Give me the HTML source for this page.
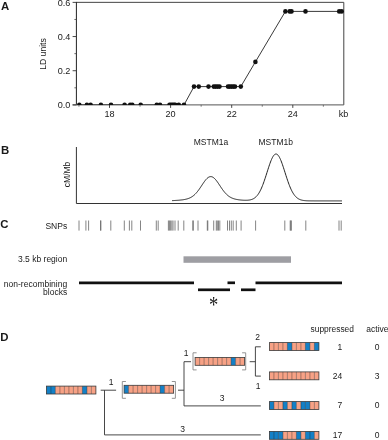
<!DOCTYPE html>
<html><head><meta charset="utf-8"><title>Figure</title>
<style>html,body{margin:0;padding:0;background:#fff}svg{display:block}text{font-family:"Liberation Sans",Arial,sans-serif;fill:#1a1a1a}</style></head><body>
<svg width="388" height="440" viewBox="0 0 388 440">
<rect width="388" height="440" fill="#fff"/>
<text x="0.9" y="9.7" font-size="11.4" font-weight="bold" fill="#111">A</text>
<text x="0.9" y="154.2" font-size="11.4" font-weight="bold" fill="#111">B</text>
<text x="0.2" y="228.3" font-size="11.4" font-weight="bold" fill="#111">C</text>
<text x="0.3" y="340.7" font-size="11.4" font-weight="bold" fill="#111">D</text>
<defs><clipPath id="pa"><rect x="76.4" y="2.35" width="267.79999999999995" height="102.55000000000001"/></clipPath></defs>
<path d="M76.4 2.35H343.8V104.9" fill="none" stroke="#444" stroke-width="1"/>
<path d="M76.4 1.9500000000000002V104.9" fill="none" stroke="#222" stroke-width="1"/>
<path d="M72.60000000000001 104.9H343.8" fill="none" stroke="#555" stroke-width="1"/>
<path d="M72.60000000000001 104.90H76.4" stroke="#333" stroke-width="0.9"/>
<text x="70.4" y="108.10" font-size="9.1" text-anchor="end">0.0</text>
<path d="M74.4 87.82H76.4" stroke="#444" stroke-width="0.8"/>
<path d="M72.60000000000001 70.73H76.4" stroke="#333" stroke-width="0.9"/>
<text x="70.4" y="73.93" font-size="9.1" text-anchor="end">0.2</text>
<path d="M74.4 53.65H76.4" stroke="#444" stroke-width="0.8"/>
<path d="M72.60000000000001 36.56H76.4" stroke="#333" stroke-width="0.9"/>
<text x="70.4" y="39.76" font-size="9.1" text-anchor="end">0.4</text>
<path d="M74.4 19.48H76.4" stroke="#444" stroke-width="0.8"/>
<path d="M72.60000000000001 2.39H76.4" stroke="#333" stroke-width="0.9"/>
<text x="70.4" y="5.59" font-size="9.1" text-anchor="end">0.6</text>
<path d="M78.95 104.9V106.7" stroke="#555" stroke-width="0.8"/>
<path d="M109.50 104.9V107.9" stroke="#333" stroke-width="0.9"/>
<text x="109.50" y="117.2" font-size="9.1" text-anchor="middle">18</text>
<path d="M140.05 104.9V106.7" stroke="#555" stroke-width="0.8"/>
<path d="M170.60 104.9V107.9" stroke="#333" stroke-width="0.9"/>
<text x="170.60" y="117.2" font-size="9.1" text-anchor="middle">20</text>
<path d="M201.15 104.9V106.7" stroke="#555" stroke-width="0.8"/>
<path d="M231.70 104.9V107.9" stroke="#333" stroke-width="0.9"/>
<text x="231.70" y="117.2" font-size="9.1" text-anchor="middle">22</text>
<path d="M262.25 104.9V106.7" stroke="#555" stroke-width="0.8"/>
<path d="M292.80 104.9V107.9" stroke="#333" stroke-width="0.9"/>
<text x="292.80" y="117.2" font-size="9.1" text-anchor="middle">24</text>
<path d="M323.35 104.9V106.7" stroke="#555" stroke-width="0.8"/>
<text x="343.5" y="117.2" font-size="9.1" text-anchor="middle">kb</text>
<text transform="translate(45.7 54) rotate(-90)" font-size="8.6" text-anchor="middle">LD units</text>
<g clip-path="url(#pa)">
<polyline fill="none" stroke="#222" stroke-width="0.9" points="79.3,104.9 86.9,104.9 90.6,104.9 100.9,104.9 111,104.9 124.6,104.9 130.2,104.9 132.3,104.9 140.7,104.9 156.75,104.9 160,104.9 169.5,104.9 171,104.9 172.5,104.9 174,104.9 175.2,104.9 178.75,104.9 184,104.9 194,86.6 198.75,86.6 208.5,86.6 213.75,86.6 215.6,86.6 217.5,86.6 219.5,86.6 228,86.6 229.7,86.6 231.5,86.6 233.3,86.6 235,86.6 240.8,86.6 255.4,61.9 285.4,11.4 289.7,11.4 291.5,11.4 305.5,11.4 339.2,11.4 341.7,11.4"/>
<circle cx="79.3" cy="104.9" r="2.3" fill="#111"/>
<circle cx="86.9" cy="104.9" r="2.3" fill="#111"/>
<circle cx="90.6" cy="104.9" r="2.3" fill="#111"/>
<circle cx="100.9" cy="104.9" r="2.3" fill="#111"/>
<circle cx="111" cy="104.9" r="2.3" fill="#111"/>
<circle cx="124.6" cy="104.9" r="2.3" fill="#111"/>
<circle cx="130.2" cy="104.9" r="2.3" fill="#111"/>
<circle cx="132.3" cy="104.9" r="2.3" fill="#111"/>
<circle cx="140.7" cy="104.9" r="2.3" fill="#111"/>
<circle cx="156.75" cy="104.9" r="2.3" fill="#111"/>
<circle cx="160" cy="104.9" r="2.3" fill="#111"/>
<circle cx="169.5" cy="104.9" r="2.3" fill="#111"/>
<circle cx="171" cy="104.9" r="2.3" fill="#111"/>
<circle cx="172.5" cy="104.9" r="2.3" fill="#111"/>
<circle cx="174" cy="104.9" r="2.3" fill="#111"/>
<circle cx="175.2" cy="104.9" r="2.3" fill="#111"/>
<circle cx="178.75" cy="104.9" r="2.3" fill="#111"/>
<circle cx="184" cy="104.9" r="2.3" fill="#111"/>
<circle cx="194" cy="86.6" r="2.3" fill="#111"/>
<circle cx="198.75" cy="86.6" r="2.3" fill="#111"/>
<circle cx="208.5" cy="86.6" r="2.3" fill="#111"/>
<circle cx="213.75" cy="86.6" r="2.3" fill="#111"/>
<circle cx="215.6" cy="86.6" r="2.3" fill="#111"/>
<circle cx="217.5" cy="86.6" r="2.3" fill="#111"/>
<circle cx="219.5" cy="86.6" r="2.3" fill="#111"/>
<circle cx="228" cy="86.6" r="2.3" fill="#111"/>
<circle cx="229.7" cy="86.6" r="2.3" fill="#111"/>
<circle cx="231.5" cy="86.6" r="2.3" fill="#111"/>
<circle cx="233.3" cy="86.6" r="2.3" fill="#111"/>
<circle cx="235" cy="86.6" r="2.3" fill="#111"/>
<circle cx="240.8" cy="86.6" r="2.3" fill="#111"/>
<circle cx="255.4" cy="61.9" r="2.3" fill="#111"/>
<circle cx="285.4" cy="11.4" r="2.3" fill="#111"/>
<circle cx="289.7" cy="11.4" r="2.3" fill="#111"/>
<circle cx="291.5" cy="11.4" r="2.3" fill="#111"/>
<circle cx="305.5" cy="11.4" r="2.3" fill="#111"/>
<circle cx="339.2" cy="11.4" r="2.3" fill="#111"/>
<circle cx="341.7" cy="11.4" r="2.3" fill="#111"/>
</g>
<path d="M76.4 147V203.5H342" fill="none" stroke="#333" stroke-width="1"/>
<text transform="translate(70 174.4) rotate(-90)" font-size="8.5" text-anchor="middle">cM/Mb</text>
<text x="211" y="144.6" font-size="8.5" text-anchor="middle">MSTM1a</text>
<text x="275.7" y="144.6" font-size="8.5" text-anchor="middle">MSTM1b</text>
<polyline fill="none" stroke="#222" stroke-width="1" points="172.0,200.62 172.5,200.60 173.0,200.58 173.5,200.55 174.0,200.53 174.5,200.50 175.0,200.48 175.5,200.45 176.0,200.42 176.5,200.39 177.0,200.36 177.5,200.32 178.0,200.29 178.5,200.25 179.0,200.21 179.5,200.16 180.0,200.11 180.5,200.06 181.0,200.01 181.5,199.95 182.0,199.89 182.5,199.83 183.0,199.76 183.5,199.68 184.0,199.60 184.5,199.51 185.0,199.41 185.5,199.30 186.0,199.19 186.5,199.07 187.0,198.93 187.5,198.78 188.0,198.62 188.5,198.45 189.0,198.26 189.5,198.05 190.0,197.82 190.5,197.58 191.0,197.31 191.5,197.02 192.0,196.71 192.5,196.38 193.0,196.02 193.5,195.63 194.0,195.21 194.5,194.77 195.0,194.29 195.5,193.79 196.0,193.26 196.5,192.70 197.0,192.11 197.5,191.50 198.0,190.86 198.5,190.19 199.0,189.50 199.5,188.79 200.0,188.07 200.5,187.33 201.0,186.58 201.5,185.82 202.0,185.07 202.5,184.31 203.0,183.56 203.5,182.83 204.0,182.11 204.5,181.42 205.0,180.75 205.5,180.12 206.0,179.52 206.5,178.97 207.0,178.47 207.5,178.02 208.0,177.63 208.5,177.29 209.0,177.02 209.5,176.82 210.0,176.68 210.5,176.61 211.0,176.61 211.5,176.68 212.0,176.82 212.5,177.02 213.0,177.29 213.5,177.63 214.0,178.02 214.5,178.47 215.0,178.97 215.5,179.52 216.0,180.12 216.5,180.75 217.0,181.42 217.5,182.11 218.0,182.83 218.5,183.56 219.0,184.31 219.5,185.07 220.0,185.82 220.5,186.58 221.0,187.33 221.5,188.07 222.0,188.79 222.5,189.50 223.0,190.19 223.5,190.86 224.0,191.50 224.5,192.11 225.0,192.70 225.5,193.26 226.0,193.79 226.5,194.29 227.0,194.77 227.5,195.21 228.0,195.63 228.5,196.02 229.0,196.38 229.5,196.71 230.0,197.02 230.5,197.31 231.0,197.58 231.5,197.82 232.0,198.05 232.5,198.26 233.0,198.45 233.5,198.62 234.0,198.78 234.5,198.93 235.0,199.06 235.5,199.19 236.0,199.30 236.5,199.41 237.0,199.50 237.5,199.59 238.0,199.67 238.5,199.75 239.0,199.82 239.5,199.88 240.0,199.94 240.5,199.99 241.0,200.04 241.5,200.08 242.0,200.12 242.5,200.16 243.0,200.19 243.5,200.22 244.0,200.24 244.5,200.25 245.0,200.27 245.5,200.27 246.0,200.27 246.5,200.26 247.0,200.24 247.5,200.22 248.0,200.18 248.5,200.13 249.0,200.08 249.5,200.00 250.0,199.91 250.5,199.81 251.0,199.68 251.5,199.53 252.0,199.36 252.5,199.16 253.0,198.94 253.5,198.68 254.0,198.39 254.5,198.06 255.0,197.69 255.5,197.28 256.0,196.82 256.5,196.31 257.0,195.75 257.5,195.14 258.0,194.47 258.5,193.74 259.0,192.95 259.5,192.10 260.0,191.18 260.5,190.20 261.0,189.16 261.5,188.05 262.0,186.87 262.5,185.64 263.0,184.34 263.5,182.99 264.0,181.59 264.5,180.14 265.0,178.65 265.5,177.13 266.0,175.58 266.5,174.01 267.0,172.44 267.5,170.86 268.0,169.29 268.5,167.75 269.0,166.23 269.5,164.76 270.0,163.34 270.5,161.98 271.0,160.70 271.5,159.50 272.0,158.40 272.5,157.41 273.0,156.53 273.5,155.77 274.0,155.14 274.5,154.64 275.0,154.29 275.5,154.07 276.0,154.00 276.5,154.07 277.0,154.29 277.5,154.65 278.0,155.14 278.5,155.77 279.0,156.53 279.5,157.41 280.0,158.41 280.5,159.51 281.0,160.71 281.5,161.99 282.0,163.34 282.5,164.77 283.0,166.24 283.5,167.76 284.0,169.31 284.5,170.87 285.0,172.45 285.5,174.03 286.0,175.60 286.5,177.15 287.0,178.68 287.5,180.17 288.0,181.62 288.5,183.02 289.0,184.38 289.5,185.67 290.0,186.91 290.5,188.09 291.0,189.21 291.5,190.26 292.0,191.24 292.5,192.16 293.0,193.02 293.5,193.82 294.0,194.55 294.5,195.23 295.0,195.85 295.5,196.41 296.0,196.93 296.5,197.40 297.0,197.82 297.5,198.20 298.0,198.54 298.5,198.84 299.0,199.11 299.5,199.35 300.0,199.56 300.5,199.75 301.0,199.91 301.5,200.05 302.0,200.18 302.5,200.29 303.0,200.38 303.5,200.46 304.0,200.53 304.5,200.59 305.0,200.64 305.5,200.68 306.0,200.72 306.5,200.75 307.0,200.78 307.5,200.80 308.0,200.82 308.5,200.83 309.0,200.84 309.5,200.85 310.0,200.86 310.5,200.87 311.0,200.88 311.5,200.88 312.0,200.88 312.5,200.89 313.0,200.89 313.5,200.89 314.0,200.89 314.5,200.90 315.0,200.90 315.5,200.90 316.0,200.90 316.5,200.90 317.0,200.90 317.5,200.90 318.0,200.90 318.5,200.90 319.0,200.90 319.5,200.90 320.0,200.90 320.5,200.90 321.0,200.90 321.5,200.90 322.0,200.90 322.5,200.90 323.0,200.90 323.5,200.90 324.0,200.90 324.5,200.90 325.0,200.90 325.5,200.90 326.0,200.90 326.5,200.90 327.0,200.90 327.5,200.90 328.0,200.90 328.5,200.90 329.0,200.90 329.5,200.90 330.0,200.90 330.5,200.90 331.0,200.90 331.5,200.90 332.0,200.90 332.5,200.90 333.0,200.90 333.5,200.90 334.0,200.90 334.5,200.90 335.0,200.90 335.5,200.90 336.0,200.90 336.5,200.90 337.0,200.90 337.5,200.90 338.0,200.90 338.5,200.90 339.0,200.90 339.5,200.90 340.0,200.90 340.5,200.90 341.0,200.90 341.5,200.90 342.0,200.90"/>
<text x="67.2" y="228.5" font-size="8.5" text-anchor="end">SNPs</text>
<path d="M79 220.5V230.6" stroke="#666" stroke-width="0.8"/>
<path d="M85.9 220.5V230.6" stroke="#666" stroke-width="0.8"/>
<path d="M88.6 220.5V230.6" stroke="#666" stroke-width="0.8"/>
<path d="M100.5 220.5V230.6" stroke="#666" stroke-width="0.8"/>
<path d="M100.9 220.5V230.6" stroke="#666" stroke-width="0.8"/>
<path d="M110.8 220.5V230.6" stroke="#666" stroke-width="0.8"/>
<path d="M124.3 220.5V230.6" stroke="#666" stroke-width="0.8"/>
<path d="M129.4 220.5V230.6" stroke="#666" stroke-width="0.8"/>
<path d="M131.8 220.5V230.6" stroke="#666" stroke-width="0.8"/>
<path d="M140.5 220.5V230.6" stroke="#666" stroke-width="0.8"/>
<path d="M156.3 220.5V230.6" stroke="#666" stroke-width="0.8"/>
<path d="M158.2 220.5V230.6" stroke="#666" stroke-width="0.8"/>
<path d="M168.4 220.5V230.6" stroke="#666" stroke-width="0.8"/>
<path d="M169.4 220.5V230.6" stroke="#666" stroke-width="0.8"/>
<path d="M170.4 220.5V230.6" stroke="#666" stroke-width="0.8"/>
<path d="M171.8 220.5V230.6" stroke="#666" stroke-width="0.8"/>
<path d="M173 220.5V230.6" stroke="#666" stroke-width="0.8"/>
<path d="M175 220.5V230.6" stroke="#666" stroke-width="0.8"/>
<path d="M178.2 220.5V230.6" stroke="#666" stroke-width="0.8"/>
<path d="M183.8 220.5V230.6" stroke="#666" stroke-width="0.8"/>
<path d="M192.8 220.5V230.6" stroke="#666" stroke-width="0.8"/>
<path d="M193.3 220.5V230.6" stroke="#666" stroke-width="0.8"/>
<path d="M198 220.5V230.6" stroke="#666" stroke-width="0.8"/>
<path d="M207.3 220.5V230.6" stroke="#666" stroke-width="0.8"/>
<path d="M207.8 220.5V230.6" stroke="#666" stroke-width="0.8"/>
<path d="M213.7 220.5V230.6" stroke="#666" stroke-width="0.8"/>
<path d="M216.3 220.5V230.6" stroke="#666" stroke-width="0.8"/>
<path d="M217.3 220.5V230.6" stroke="#666" stroke-width="0.8"/>
<path d="M218.5 220.5V230.6" stroke="#666" stroke-width="0.8"/>
<path d="M219.8 220.5V230.6" stroke="#666" stroke-width="0.8"/>
<path d="M227.5 220.5V230.6" stroke="#666" stroke-width="0.8"/>
<path d="M229.5 220.5V230.6" stroke="#666" stroke-width="0.8"/>
<path d="M231.3 220.5V230.6" stroke="#666" stroke-width="0.8"/>
<path d="M233.2 220.5V230.6" stroke="#666" stroke-width="0.8"/>
<path d="M236.3 220.5V230.6" stroke="#666" stroke-width="0.8"/>
<path d="M241.1 220.5V230.6" stroke="#666" stroke-width="0.8"/>
<path d="M255.6 220.5V230.6" stroke="#666" stroke-width="0.8"/>
<path d="M284.8 220.5V230.6" stroke="#666" stroke-width="0.8"/>
<path d="M290.2 220.5V230.6" stroke="#666" stroke-width="0.8"/>
<path d="M290.8 220.5V230.6" stroke="#666" stroke-width="0.8"/>
<path d="M291.3 220.5V230.6" stroke="#666" stroke-width="0.8"/>
<path d="M305.8 220.5V230.6" stroke="#666" stroke-width="0.8"/>
<path d="M339 220.5V230.6" stroke="#666" stroke-width="0.8"/>
<path d="M341.2 220.5V230.6" stroke="#666" stroke-width="0.8"/>
<text x="67.2" y="261.5" font-size="8.5" text-anchor="end">3.5 kb region</text>
<rect x="183.5" y="256.3" width="107.5" height="6.5" fill="#9e9ea3"/>
<text x="67.2" y="286.8" font-size="8.5" text-anchor="end">non-recombining</text>
<text x="67.2" y="294.7" font-size="8.5" text-anchor="end">blocks</text>
<path d="M79 282.8H194" stroke="#111" stroke-width="2.7"/>
<path d="M227.5 282.8H235" stroke="#111" stroke-width="2.7"/>
<path d="M255.5 282.8H342" stroke="#111" stroke-width="2.7"/>
<path d="M198 289.8H230" stroke="#111" stroke-width="2.7"/>
<path d="M241 289.8H255.5" stroke="#111" stroke-width="2.7"/>
<text transform="translate(213.6 312.4) scale(1 1.3)" x="0" y="0" font-size="18.5" text-anchor="middle" style="font-family:'Liberation Serif',serif">*</text>
<rect x="46.40" y="386.1" width="4.55" height="7.9" fill="#1480c6"/>
<rect x="50.90" y="386.1" width="4.55" height="7.9" fill="#1480c6"/>
<rect x="55.40" y="386.1" width="4.55" height="7.9" fill="#f7a286"/>
<rect x="59.90" y="386.1" width="4.55" height="7.9" fill="#f7a286"/>
<rect x="64.40" y="386.1" width="4.55" height="7.9" fill="#f7a286"/>
<rect x="68.90" y="386.1" width="4.55" height="7.9" fill="#f7a286"/>
<rect x="73.40" y="386.1" width="4.55" height="7.9" fill="#f7a286"/>
<rect x="77.90" y="386.1" width="4.55" height="7.9" fill="#f7a286"/>
<rect x="82.40" y="386.1" width="4.55" height="7.9" fill="#1480c6"/>
<rect x="86.90" y="386.1" width="4.55" height="7.9" fill="#f7a286"/>
<rect x="91.40" y="386.1" width="4.55" height="7.9" fill="#f7a286"/>
<path d="M50.90 386.1V394.0 M55.40 386.1V394.0 M59.90 386.1V394.0 M64.40 386.1V394.0 M68.90 386.1V394.0 M73.40 386.1V394.0 M77.90 386.1V394.0 M82.40 386.1V394.0 M86.90 386.1V394.0 M91.40 386.1V394.0" stroke="#000" stroke-opacity="0.55" stroke-width="0.6" fill="none"/>
<rect x="46.4" y="386.1" width="49.50" height="7.9" fill="none" stroke="#3a3a3a" stroke-width="0.8"/>
<rect x="124.10" y="385.3" width="4.55" height="7.9" fill="#1480c6"/>
<rect x="128.60" y="385.3" width="4.55" height="7.9" fill="#f7a286"/>
<rect x="133.10" y="385.3" width="4.55" height="7.9" fill="#f7a286"/>
<rect x="137.60" y="385.3" width="4.55" height="7.9" fill="#f7a286"/>
<rect x="142.10" y="385.3" width="4.55" height="7.9" fill="#f7a286"/>
<rect x="146.60" y="385.3" width="4.55" height="7.9" fill="#f7a286"/>
<rect x="151.10" y="385.3" width="4.55" height="7.9" fill="#f7a286"/>
<rect x="155.60" y="385.3" width="4.55" height="7.9" fill="#f7a286"/>
<rect x="160.10" y="385.3" width="4.55" height="7.9" fill="#1480c6"/>
<rect x="164.60" y="385.3" width="4.55" height="7.9" fill="#f7a286"/>
<rect x="169.10" y="385.3" width="4.55" height="7.9" fill="#f7a286"/>
<path d="M128.60 385.3V393.2 M133.10 385.3V393.2 M137.60 385.3V393.2 M142.10 385.3V393.2 M146.60 385.3V393.2 M151.10 385.3V393.2 M155.60 385.3V393.2 M160.10 385.3V393.2 M164.60 385.3V393.2 M169.10 385.3V393.2" stroke="#000" stroke-opacity="0.55" stroke-width="0.6" fill="none"/>
<rect x="124.1" y="385.3" width="49.50" height="7.9" fill="none" stroke="#3a3a3a" stroke-width="0.8"/>
<rect x="195.10" y="357.4" width="4.55" height="7.9" fill="#f7a286"/>
<rect x="199.60" y="357.4" width="4.55" height="7.9" fill="#f7a286"/>
<rect x="204.10" y="357.4" width="4.55" height="7.9" fill="#f7a286"/>
<rect x="208.60" y="357.4" width="4.55" height="7.9" fill="#f7a286"/>
<rect x="213.10" y="357.4" width="4.55" height="7.9" fill="#f7a286"/>
<rect x="217.60" y="357.4" width="4.55" height="7.9" fill="#f7a286"/>
<rect x="222.10" y="357.4" width="4.55" height="7.9" fill="#f7a286"/>
<rect x="226.60" y="357.4" width="4.55" height="7.9" fill="#f7a286"/>
<rect x="231.10" y="357.4" width="4.55" height="7.9" fill="#1480c6"/>
<rect x="235.60" y="357.4" width="4.55" height="7.9" fill="#f7a286"/>
<rect x="240.10" y="357.4" width="4.55" height="7.9" fill="#f7a286"/>
<path d="M199.60 357.4V365.29999999999995 M204.10 357.4V365.29999999999995 M208.60 357.4V365.29999999999995 M213.10 357.4V365.29999999999995 M217.60 357.4V365.29999999999995 M222.10 357.4V365.29999999999995 M226.60 357.4V365.29999999999995 M231.10 357.4V365.29999999999995 M235.60 357.4V365.29999999999995 M240.10 357.4V365.29999999999995" stroke="#000" stroke-opacity="0.55" stroke-width="0.6" fill="none"/>
<rect x="195.1" y="357.4" width="49.50" height="7.9" fill="none" stroke="#3a3a3a" stroke-width="0.8"/>
<rect x="269.40" y="342.6" width="4.55" height="7.9" fill="#f7a286"/>
<rect x="273.90" y="342.6" width="4.55" height="7.9" fill="#f7a286"/>
<rect x="278.40" y="342.6" width="4.55" height="7.9" fill="#f7a286"/>
<rect x="282.90" y="342.6" width="4.55" height="7.9" fill="#f7a286"/>
<rect x="287.40" y="342.6" width="4.55" height="7.9" fill="#1480c6"/>
<rect x="291.90" y="342.6" width="4.55" height="7.9" fill="#f7a286"/>
<rect x="296.40" y="342.6" width="4.55" height="7.9" fill="#f7a286"/>
<rect x="300.90" y="342.6" width="4.55" height="7.9" fill="#f7a286"/>
<rect x="305.40" y="342.6" width="4.55" height="7.9" fill="#1480c6"/>
<rect x="309.90" y="342.6" width="4.55" height="7.9" fill="#f7a286"/>
<rect x="314.40" y="342.6" width="4.55" height="7.9" fill="#1480c6"/>
<path d="M273.90 342.6V350.5 M278.40 342.6V350.5 M282.90 342.6V350.5 M287.40 342.6V350.5 M291.90 342.6V350.5 M296.40 342.6V350.5 M300.90 342.6V350.5 M305.40 342.6V350.5 M309.90 342.6V350.5 M314.40 342.6V350.5" stroke="#000" stroke-opacity="0.55" stroke-width="0.6" fill="none"/>
<rect x="269.4" y="342.6" width="49.50" height="7.9" fill="none" stroke="#3a3a3a" stroke-width="0.8"/>
<rect x="269.40" y="371.9" width="4.55" height="7.9" fill="#f7a286"/>
<rect x="273.90" y="371.9" width="4.55" height="7.9" fill="#f7a286"/>
<rect x="278.40" y="371.9" width="4.55" height="7.9" fill="#f7a286"/>
<rect x="282.90" y="371.9" width="4.55" height="7.9" fill="#f7a286"/>
<rect x="287.40" y="371.9" width="4.55" height="7.9" fill="#f7a286"/>
<rect x="291.90" y="371.9" width="4.55" height="7.9" fill="#f7a286"/>
<rect x="296.40" y="371.9" width="4.55" height="7.9" fill="#f7a286"/>
<rect x="300.90" y="371.9" width="4.55" height="7.9" fill="#f7a286"/>
<rect x="305.40" y="371.9" width="4.55" height="7.9" fill="#f7a286"/>
<rect x="309.90" y="371.9" width="4.55" height="7.9" fill="#f7a286"/>
<rect x="314.40" y="371.9" width="4.55" height="7.9" fill="#f7a286"/>
<path d="M273.90 371.9V379.79999999999995 M278.40 371.9V379.79999999999995 M282.90 371.9V379.79999999999995 M287.40 371.9V379.79999999999995 M291.90 371.9V379.79999999999995 M296.40 371.9V379.79999999999995 M300.90 371.9V379.79999999999995 M305.40 371.9V379.79999999999995 M309.90 371.9V379.79999999999995 M314.40 371.9V379.79999999999995" stroke="#000" stroke-opacity="0.55" stroke-width="0.6" fill="none"/>
<rect x="269.4" y="371.9" width="49.50" height="7.9" fill="none" stroke="#3a3a3a" stroke-width="0.8"/>
<rect x="269.40" y="401.6" width="4.55" height="7.9" fill="#1480c6"/>
<rect x="273.90" y="401.6" width="4.55" height="7.9" fill="#f7a286"/>
<rect x="278.40" y="401.6" width="4.55" height="7.9" fill="#f7a286"/>
<rect x="282.90" y="401.6" width="4.55" height="7.9" fill="#1480c6"/>
<rect x="287.40" y="401.6" width="4.55" height="7.9" fill="#f7a286"/>
<rect x="291.90" y="401.6" width="4.55" height="7.9" fill="#1480c6"/>
<rect x="296.40" y="401.6" width="4.55" height="7.9" fill="#f7a286"/>
<rect x="300.90" y="401.6" width="4.55" height="7.9" fill="#1480c6"/>
<rect x="305.40" y="401.6" width="4.55" height="7.9" fill="#1480c6"/>
<rect x="309.90" y="401.6" width="4.55" height="7.9" fill="#f7a286"/>
<rect x="314.40" y="401.6" width="4.55" height="7.9" fill="#f7a286"/>
<path d="M273.90 401.6V409.5 M278.40 401.6V409.5 M282.90 401.6V409.5 M287.40 401.6V409.5 M291.90 401.6V409.5 M296.40 401.6V409.5 M300.90 401.6V409.5 M305.40 401.6V409.5 M309.90 401.6V409.5 M314.40 401.6V409.5" stroke="#000" stroke-opacity="0.55" stroke-width="0.6" fill="none"/>
<rect x="269.4" y="401.6" width="49.50" height="7.9" fill="none" stroke="#3a3a3a" stroke-width="0.8"/>
<rect x="269.40" y="431.4" width="4.55" height="7.9" fill="#1480c6"/>
<rect x="273.90" y="431.4" width="4.55" height="7.9" fill="#1480c6"/>
<rect x="278.40" y="431.4" width="4.55" height="7.9" fill="#1480c6"/>
<rect x="282.90" y="431.4" width="4.55" height="7.9" fill="#f7a286"/>
<rect x="287.40" y="431.4" width="4.55" height="7.9" fill="#f7a286"/>
<rect x="291.90" y="431.4" width="4.55" height="7.9" fill="#f7a286"/>
<rect x="296.40" y="431.4" width="4.55" height="7.9" fill="#1480c6"/>
<rect x="300.90" y="431.4" width="4.55" height="7.9" fill="#f7a286"/>
<rect x="305.40" y="431.4" width="4.55" height="7.9" fill="#1480c6"/>
<rect x="309.90" y="431.4" width="4.55" height="7.9" fill="#1480c6"/>
<rect x="314.40" y="431.4" width="4.55" height="7.9" fill="#f7a286"/>
<path d="M273.90 431.4V439.29999999999995 M278.40 431.4V439.29999999999995 M282.90 431.4V439.29999999999995 M287.40 431.4V439.29999999999995 M291.90 431.4V439.29999999999995 M296.40 431.4V439.29999999999995 M300.90 431.4V439.29999999999995 M305.40 431.4V439.29999999999995 M309.90 431.4V439.29999999999995 M314.40 431.4V439.29999999999995" stroke="#000" stroke-opacity="0.55" stroke-width="0.6" fill="none"/>
<rect x="269.4" y="431.4" width="49.50" height="7.9" fill="none" stroke="#3a3a3a" stroke-width="0.8"/>
<path d="M125.89999999999999 381.5H122.3V398.3H125.89999999999999" fill="none" stroke="#888" stroke-width="0.9"/>
<path d="M171.8 381.5H175.4V398.3H171.8" fill="none" stroke="#888" stroke-width="0.9"/>
<path d="M196.6 352.8H193V369.9H196.6" fill="none" stroke="#888" stroke-width="0.9"/>
<path d="M242.1 352.8H245.7V369.9H242.1" fill="none" stroke="#888" stroke-width="0.9"/>
<path d="M100.7 390.2H116.1 M104.5 390.2V434.9H260.8 M178 390.2H184 M184 361.7V405.9H260.8 M184 361.7H191 M249.7 361.7H255.4 M255.4 346.8V376.1H260.8 M255.4 346.8H260.8" fill="none" stroke="#333" stroke-width="0.9"/>
<text x="111.2" y="385.4" font-size="8.5" text-anchor="middle">1</text>
<text x="186" y="356.2" font-size="8.5" text-anchor="middle">1</text>
<text x="257.5" y="339.9" font-size="8.5" text-anchor="middle">2</text>
<text x="258" y="388.7" font-size="8.5" text-anchor="middle">1</text>
<text x="222.2" y="400.9" font-size="8.5" text-anchor="middle">3</text>
<text x="182.6" y="431.6" font-size="8.5" text-anchor="middle">3</text>
<text x="310.6" y="331.6" font-size="8.4">suppressed</text>
<text x="366.3" y="331.6" font-size="8.5">active</text>
<text x="342.3" y="349.5" font-size="8.5" text-anchor="end">1</text>
<text x="377" y="349.5" font-size="8.5" text-anchor="middle">0</text>
<text x="342.3" y="378.8" font-size="8.5" text-anchor="end">24</text>
<text x="377" y="378.8" font-size="8.5" text-anchor="middle">3</text>
<text x="342.3" y="408.4" font-size="8.5" text-anchor="end">7</text>
<text x="377" y="408.4" font-size="8.5" text-anchor="middle">0</text>
<text x="342.3" y="438.2" font-size="8.5" text-anchor="end">17</text>
<text x="377" y="438.2" font-size="8.5" text-anchor="middle">0</text>
</svg></body></html>
